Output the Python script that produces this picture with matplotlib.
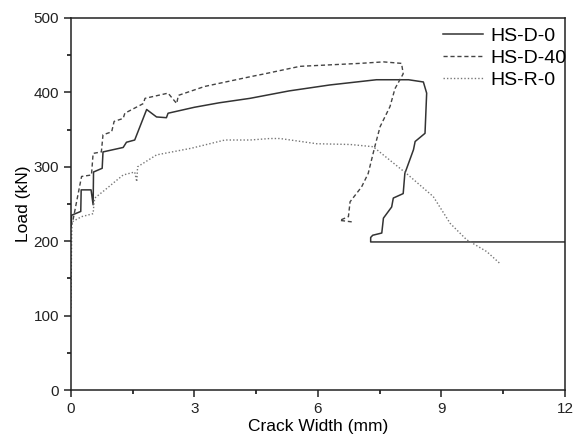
import matplotlib
matplotlib.use("Agg")
from matplotlib import pyplot as plt
from matplotlib.ticker import MultipleLocator

plt.rcParams['font.family'] = ['Liberation Sans', 'DejaVu Sans']

# HS-D-0 (solid)
d0_x = [0.0, 0.02, 0.24, 0.25, 0.49, 0.54, 0.55, 0.76, 0.78, 1.27, 1.35, 1.55,
        1.84, 2.08, 2.32, 2.36, 3.0, 3.6, 4.35, 5.3, 6.29, 7.42, 8.2, 8.56,
        8.64, 8.6, 8.36, 8.32, 8.11, 8.07, 7.83, 7.79, 7.59, 7.55, 7.33, 7.28,
        7.28, 12.0]
d0_y = [220, 235, 240, 269, 269, 249, 293, 298, 320, 326, 333, 336,
        377, 367, 366, 372, 380, 386, 392, 402, 410, 417, 417, 414,
        399, 345, 334, 323, 291, 264, 258, 246, 231, 211, 208, 205,
        199, 199]

# HS-D-40 (dashed)
d40_x = [0.0, 0.05, 0.22, 0.26, 0.5, 0.54, 0.74, 0.78, 0.99, 1.05, 1.27, 1.31,
         1.76, 1.8, 2.36, 2.57, 2.61, 3.25, 4.35, 4.71, 5.56, 7.02, 7.59, 8.03,
         8.07, 7.87, 7.75, 7.51, 7.38, 7.22, 7.06, 6.78, 6.74, 6.53, 6.82]
d40_y = [220, 228, 276, 287, 289, 318, 320, 343, 347, 361, 365, 372,
         385, 392, 399, 385, 396, 408, 421, 425, 435, 439, 441, 439,
         425, 405, 381, 354, 327, 291, 273, 253, 233, 228, 226]

# HS-R-0 (dotted)
r0_x = [0.0, 0.01, 0.02, 0.03, 0.26, 0.54, 0.56, 0.58, 0.83, 1.07, 1.27, 1.55,
        1.6, 1.62, 2.08, 2.93, 3.74, 4.35, 4.83, 5.08, 5.97, 6.78, 7.34, 7.99,
        8.15, 8.8, 9.21, 9.61, 10.1, 10.42]
r0_y = [110, 160, 210, 226, 233, 237, 250, 258, 269, 280, 289, 293,
        280, 300, 316, 325, 336, 336, 338, 338, 331, 330, 327, 298,
        291, 260, 224, 202, 186, 170]

fig = plt.figure(figsize=(5.81, 4.43), dpi=100)
ax = fig.add_axes([0.122, 0.1196, 0.8505, 0.8398])

ax.plot(d0_x, d0_y, color='#333333', lw=1.1, ls='-', label='HS-D-0')
ax.plot(d40_x, d40_y, color='#444444', lw=1.0, ls=(0, (3, 2)), label='HS-D-40')
ax.plot(r0_x, r0_y, color='#777777', lw=1.0, ls=(0, (1, 1.5)), label='HS-R-0')

ax.set_xlim(0, 12)
ax.set_ylim(0, 500)
ax.xaxis.set_major_locator(MultipleLocator(3))
ax.xaxis.set_minor_locator(MultipleLocator(1.5))
ax.yaxis.set_major_locator(MultipleLocator(100))
ax.yaxis.set_minor_locator(MultipleLocator(50))
ax.tick_params(which='major', direction='out', length=5, width=1.1,
               labelsize=11, colors='#222222')
ax.tick_params(which='minor', direction='out', length=3, width=1.1)
for s in ax.spines.values():
    s.set_linewidth(1.1)
    s.set_color('#222222')

ax.set_xlabel('Crack Width (mm)', fontsize=12.5, labelpad=2)
ax.set_ylabel('Load (kN)', fontsize=12.5, labelpad=2)

ax.legend(loc='upper left', bbox_to_anchor=(0.753, 0.975), frameon=False,
          fontsize=14, borderpad=0, borderaxespad=0, handlelength=2.05,
          handletextpad=0.4, labelspacing=0.22)

fig.savefig('out.png', dpi=100)
